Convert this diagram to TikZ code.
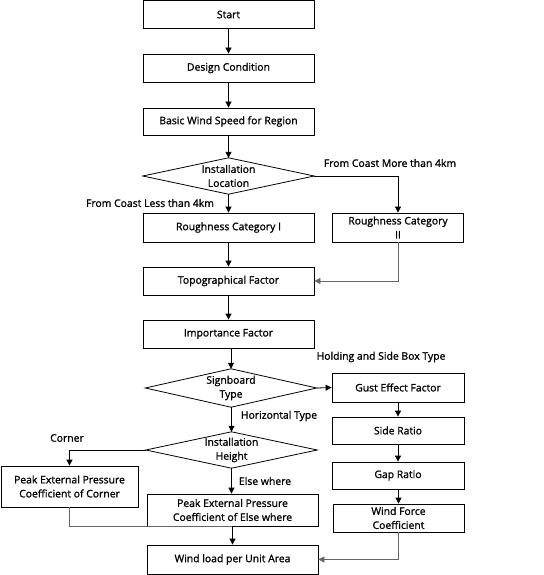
\documentclass[tikz,border=0pt]{standalone}
\usepackage{fontspec}
\setmainfont{Open Sans}[BoldFont={Open Sans},BoldFeatures={FakeBold=1.2}]
\usetikzlibrary{arrows.meta}
\begin{document}
\begin{tikzpicture}[x=1pt,y=-1pt,
  every node/.style={font=\fontsize{10.4}{14}\selectfont\bfseries, inner sep=0pt, align=center},
  box/.style={draw, line width=0.8pt},
  dia/.style={rectangle},
  lbl/.style={},
  arr/.style={line width=0.8pt, -{Triangle[length=6pt,width=6pt]}},
  garr/.style={line width=0.8pt, draw=black!60, -{Triangle[length=6pt,width=6pt]}},
  gline/.style={line width=0.8pt, draw=black!60},
  dshape/.style={line width=0.8pt}
]
\useasboundingbox (0,0) rectangle (543,575);

% main column
\node[box, minimum width=171pt, minimum height=28pt] (start) at (228.5,14.5) {Start};
\node[box, minimum width=171pt, minimum height=28pt] (design) at (228.5,68) {Design Condition};
\node[box, minimum width=171pt, minimum height=27pt] (basic) at (228.5,121.5) {Basic Wind Speed for Region};
\node[dia, minimum width=171pt, minimum height=36pt] (loc) at (228.5,176) {Installation\\Location};
\draw[dshape] (loc.west) -- (loc.north) -- (loc.east) -- (loc.south) -- cycle;
\node[box, minimum width=171pt, minimum height=29pt] (cat1) at (228.5,227.5) {Roughness Category I};
\node[box, minimum width=131pt, minimum height=29pt] (cat2) at (398,227.5) {Roughness Category\\II};
\node[box, minimum width=171pt, minimum height=28pt] (topo) at (228.5,281) {Topographical Factor};
\node[box, minimum width=171pt, minimum height=28pt] (imp) at (228.5,334) {Importance Factor};
\node[dia, minimum width=171pt, minimum height=38pt] (sign) at (231,388) {Signboard\\Type};
\draw[dshape] (sign.west) -- (sign.north) -- (sign.east) -- (sign.south) -- cycle;
\node[box, minimum width=132pt, minimum height=29pt] (gust) at (398,387.5) {Gust Effect Factor};
\node[box, minimum width=132pt, minimum height=27pt] (side) at (398,430.5) {Side Ratio};
\node[dia, minimum width=171pt, minimum height=36pt] (iheight) at (231.5,450) {Installation\\Height};
\draw[dshape] (iheight.west) -- (iheight.north) -- (iheight.east) -- (iheight.south) -- cycle;
\node[box, minimum width=137pt, minimum height=41pt] (corner) at (69.5,486.5) {Peak External Pressure\\Coefficient of Corner};
\node[box, minimum width=132pt, minimum height=27pt] (gap) at (398,475.5) {Gap Ratio};
\node[box, minimum width=171pt, minimum height=32pt] (else) at (232.5,510) {Peak External Pressure\\Coefficient of Else where};
\node[box, minimum width=131pt, minimum height=28pt] (wforce) at (398.5,518) {Wind Force\\Coefficient};
\node[box, minimum width=171pt, minimum height=29pt] (wind) at (232.5,559.5) {Wind load per Unit Area};

% labels
\node[lbl] (lmore) at (390,163) {From Coast More than 4km};
\node[lbl] (lless) at (150,203) {From Coast Less than 4km};
\node[lbl] (lhold) at (381,357) {Holding and Side Box Type};
\node[lbl] (lhor) at (279,416) {Horizontal Type};
\node[lbl] (lcorner) at (67,438) {Corner};
\node[lbl] (lelse) at (265,481) {Else where};

% connectors
\draw[arr] (start) -- (design);
\draw[arr] (design) -- (basic);
\draw[arr] (basic) -- (loc.north);
\draw[arr] (loc.south) -- (cat1);
\draw[arr] (loc.east) -| (cat2.north);
\draw[arr] (cat1) -- (topo);
\draw[garr] (cat2.south) |- (topo.east);
\draw[arr] (topo) -- (imp);
\draw[arr] (imp.south -| sign.north) -- (sign.north);
\draw[arr] (sign.east) -- (gust.west);
\draw[arr] (sign.south -| iheight.north) -- (iheight.north);
\draw[arr] (gust) -- (side);
\draw[arr] (side) -- (gap);
\draw[arr] (gap.south -| wforce.north) -- (wforce.north);
\draw[arr] (iheight.west) -| (corner.north);
\draw[arr] (iheight.south) -- (iheight.south |- else.north);
\draw[gline] (corner.south) |- (else.south);
\draw[arr] (else.south) -- (wind.north);
\draw[garr] (wforce.south) |- (wind.east);
\end{tikzpicture}
\end{document}
